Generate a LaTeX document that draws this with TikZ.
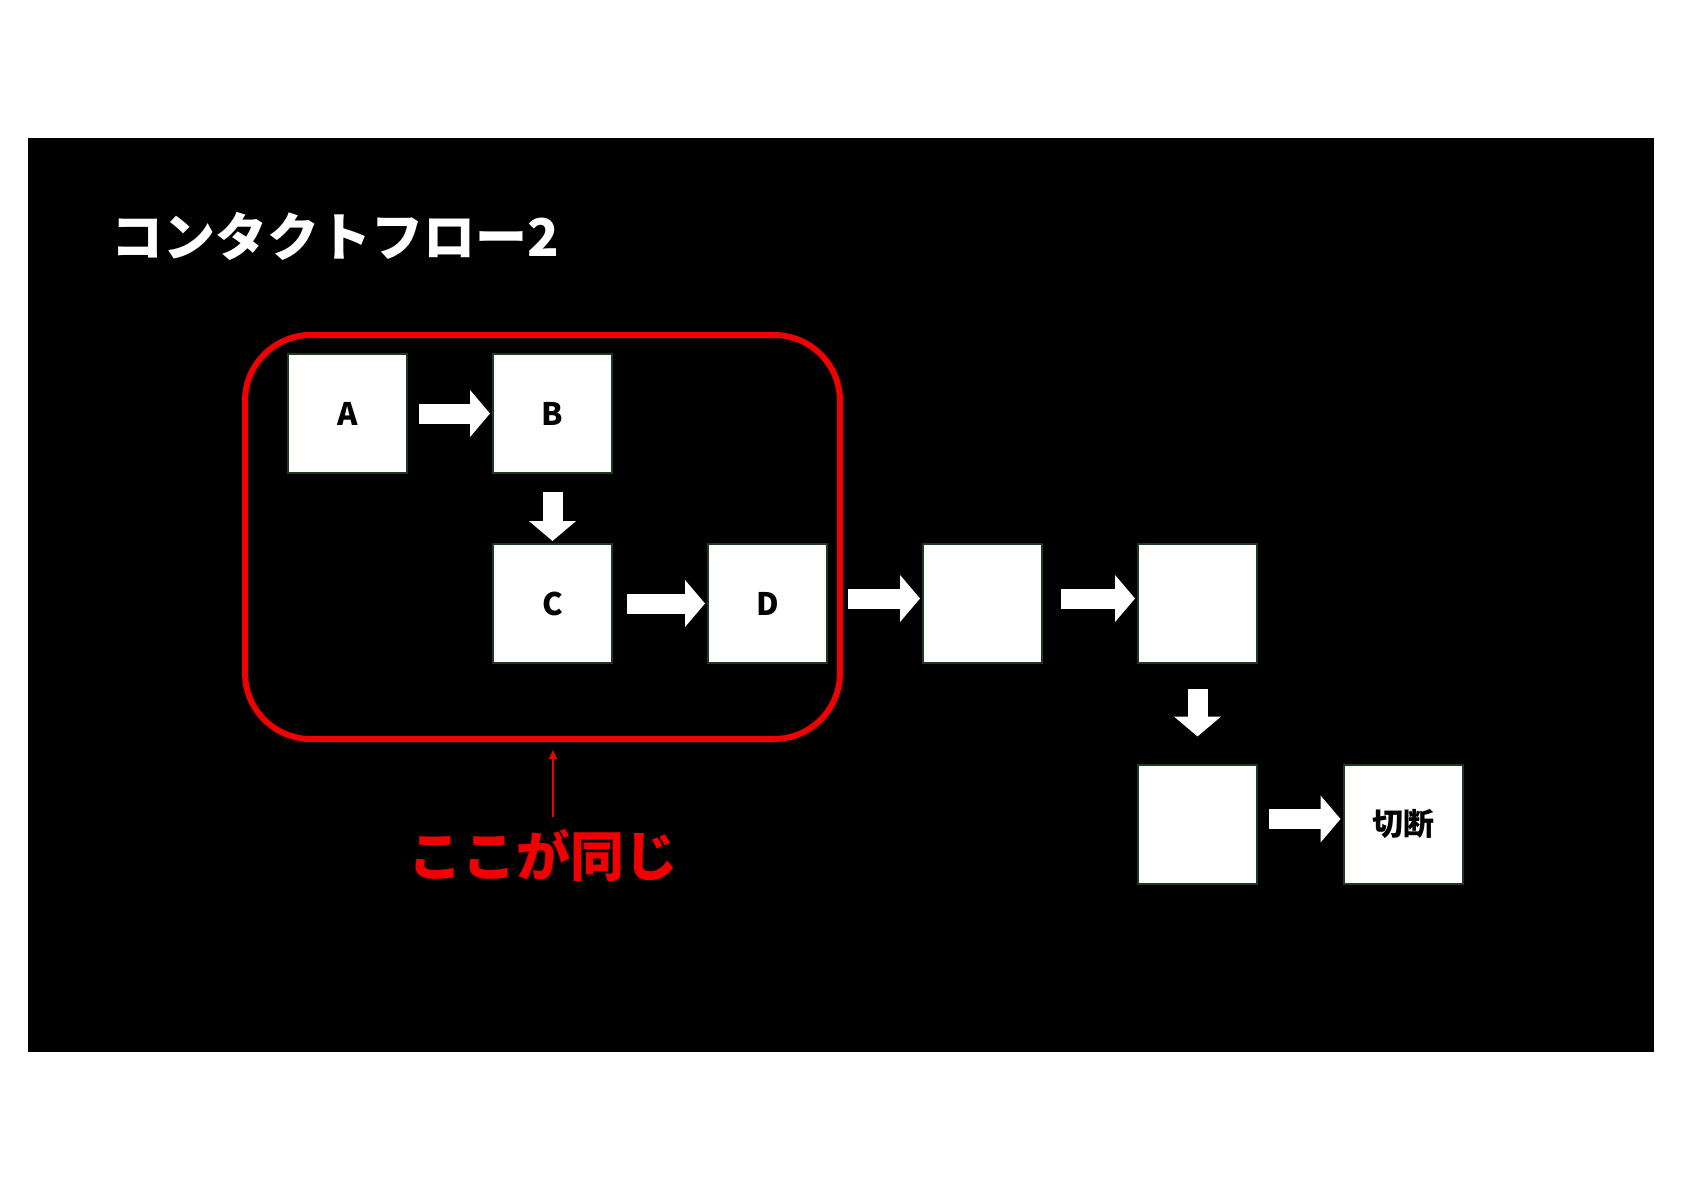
\documentclass[tikz,border=0pt]{standalone}
\usepackage{fontspec}
\newfontfamily\jp{Noto Sans CJK JP}
\usetikzlibrary{arrows.meta,calc}
\definecolor{edgegreen}{HTML}{1E3A1E}
\definecolor{alertred}{HTML}{F00000}
\tikzset{
  box/.style={draw=edgegreen, line width=2pt, fill=white, minimum width=119pt, minimum height=119pt, inner sep=0pt, font=\jp\bfseries\fontsize{31}{36}\selectfont, text=black},
  blockarrow/.style={white, line width=20pt, -{Triangle[width=46pt,length=20pt]}},
}
\begin{document}
\begin{tikzpicture}[x=1pt,y=-1pt]
\useasboundingbox (0,0) rectangle (1684,1191);
\fill[white] (0,0) rectangle (1684,1191);
\fill[black] (28,138) rectangle (1654,1052);
% title
\node[anchor=west, text=white, font=\jp\bfseries\fontsize{52}{58}\selectfont, inner sep=0pt] (title) at (111,236) {コンタクトフロー2};
% red group
\draw[alertred, line width=6pt, rounded corners=66pt] (245,335) rectangle (840,739);
% boxes
\node[box] (A) at (347.5,413.5) {A};
\node[box] (B) at (552.5,413.5) {B};
\node[box] (C) at (552.5,603.5) {C};
\node[box] (D) at (767.5,603.5) {D};
\node[box] (E) at (982.5,603.5) {};
\node[box] (F) at (1197.5,603.5) {};
\node[box] (G) at (1197.5,824) {};
\node[box] (H) at (1403,824) {切断};
% block arrows
\draw[blockarrow, shorten <=11pt, shorten >=2pt] (A.east) -- (B.west);
\draw[blockarrow, shorten <=18pt, shorten >=2pt] (B.south) -- (C.north);
\draw[blockarrow, shorten <=14pt, shorten >=2pt] (C.east) -- (D.west);
\draw[blockarrow, shorten <=20pt, shorten >=2pt] ([yshift=5pt]D.east) -- ([yshift=5pt]E.west);
\draw[blockarrow, shorten <=18pt, shorten >=2pt] ([yshift=5pt]E.east) -- ([yshift=5pt]F.west);
\draw[blockarrow, shorten <=25pt, shorten >=27pt] (F.south) -- (G.north);
\draw[blockarrow, shorten <=11pt, shorten >=2pt] ([yshift=5pt]G.east) -- ([yshift=5pt]H.west);
% note
\node[text=alertred, font=\jp\bfseries\fontsize{54}{60}\selectfont, inner sep=0pt] (note) at (543,855) {ここが同じ};
\coordinate (groupbottom) at (553,742);
\draw[alertred, line width=2pt, -{Triangle[width=8pt,length=9pt]}] (note.north -| groupbottom) ++(0,-12) coordinate (notetop) -- ($(groupbottom)+(0,8)$);
\end{tikzpicture}
\end{document}
